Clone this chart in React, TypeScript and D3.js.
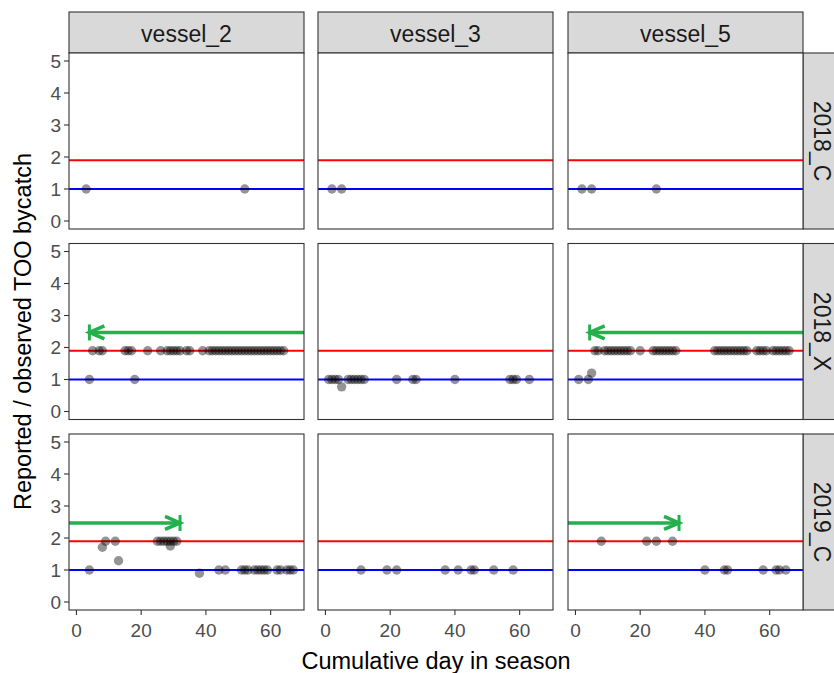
import React from "react";
import * as d3 from "d3";

const vessels = ["vessel_2", "vessel_3", "vessel_5"];
const seasons = ["2018_C", "2018_X", "2019_C"];
const xTicks = [0, 20, 40, 60];
const yTicks = [0, 1, 2, 3, 4, 5];
const redLevel = 1.9;
const blueLevel = 1.0;

// [day, ratio] per panel
const v2_2018C: [number, number][] = [[3, 1], [52, 1]];
const v3_2018C: [number, number][] = [[2, 1], [5, 1]];
const v5_2018C: [number, number][] = [[2, 1], [5, 1], [25, 1]];

const v2_2018X: [number, number][] = [
  [4, 1], [18, 1],
  [5, 1.9], [7, 1.9], [8, 1.9], [15, 1.9], [16, 1.9], [17, 1.9], [22, 1.9], [26, 1.9],
  [28, 1.9], [29, 1.9], [30, 1.9], [31, 1.9], [32, 1.9], [34, 1.9], [35, 1.9], [39, 1.9],
  [41, 1.9], [42, 1.9], [43, 1.9], [44, 1.9], [45, 1.9], [46, 1.9], [47, 1.9], [48, 1.9],
  [49, 1.9], [50, 1.9], [51, 1.9], [52, 1.9], [53, 1.9], [54, 1.9], [55, 1.9], [56, 1.9],
  [57, 1.9], [58, 1.9], [59, 1.9], [60, 1.9], [61, 1.9], [62, 1.9], [63, 1.9], [64, 1.9],
];
const v3_2018X: [number, number][] = [
  [1, 1], [2, 1], [3, 1], [4, 1], [5, 0.77], [7, 1], [8, 1], [9, 1], [10, 1], [11, 1], [12, 1],
  [22, 1], [27, 1], [28, 1], [40, 1], [57, 1], [58, 1], [59, 1], [63, 1],
];
const v5_2018X: [number, number][] = [
  [1, 1], [4, 1], [5, 1.2],
  [6, 1.9], [7, 1.9], [9, 1.9], [10, 1.9], [11, 1.9], [12, 1.9], [13, 1.9], [14, 1.9],
  [15, 1.9], [16, 1.9], [17, 1.9], [20, 1.9], [24, 1.9], [25, 1.9], [26, 1.9], [27, 1.9],
  [28, 1.9], [29, 1.9], [30, 1.9], [31, 1.9], [43, 1.9], [44, 1.9], [45, 1.9], [46, 1.9],
  [47, 1.9], [48, 1.9], [49, 1.9], [50, 1.9], [51, 1.9], [52, 1.9], [53, 1.9], [56, 1.9],
  [57, 1.9], [58, 1.9], [59, 1.9], [61, 1.9], [62, 1.9], [63, 1.9], [64, 1.9], [65, 1.9],
  [66, 1.9],
];

const v2_2019C: [number, number][] = [
  [4, 1], [8, 1.71], [9, 1.9], [12, 1.9], [13, 1.29], [25, 1.9], [26, 1.9], [27, 1.9],
  [28, 1.9], [29, 1.9], [30, 1.9], [31, 1.9], [29, 1.75], [38, 0.9], [44, 1], [46, 1],
  [51, 1], [52, 1], [53, 1], [55, 1], [56, 1], [57, 1], [58, 1], [59, 1], [62, 1], [63, 1],
  [65, 1], [66, 1], [67, 1],
];
const v3_2019C: [number, number][] = [
  [11, 1], [19, 1], [22, 1], [37, 1], [41, 1], [45, 1], [46, 1], [52, 1], [58, 1],
];
const v5_2019C: [number, number][] = [
  [8, 1.9], [22, 1.9], [25, 1.9], [30, 1.9],
  [40, 1], [46, 1], [47, 1], [58, 1], [62, 1], [63, 1], [65, 1],
];

const panelData: Record<string, [number, number][]> = {
  "vessel_2|2018_C": v2_2018C, "vessel_3|2018_C": v3_2018C, "vessel_5|2018_C": v5_2018C,
  "vessel_2|2018_X": v2_2018X, "vessel_3|2018_X": v3_2018X, "vessel_5|2018_X": v5_2018X,
  "vessel_2|2019_C": v2_2019C, "vessel_3|2019_C": v3_2019C, "vessel_5|2019_C": v5_2019C,
};

// arrows
const arrowVessel = ["vessel_2", "vessel_5", "vessel_2", "vessel_5"];
const arrowSeason = ["2018_X", "2018_X", "2019_C", "2019_C"];
const arrowFrom = [Infinity, Infinity, -Infinity, -Infinity];
const arrowTo = [4, 4.4, 32, 32];
const arrowLevel = 2.47;

const W = 834, H = 673;
const colX = [69, 318, 568];
const rowY = [53, 243.5, 434];
const PW = 235, PH = 176;
const STRIP = 41;
const FONT = "'Liberation Sans', Arial, sans-serif";
const GREEN = "#22b14c";

export default function App() {
  const x = d3.scaleLinear().domain([-2.3, 70.3]).range([0, PW]);
  const y = d3.scaleLinear().domain([-0.25, 5.25]).range([PH, 0]);
  const clampX = (v: number) => (v === Infinity ? PW : v === -Infinity ? 0 : x(v));

  return (
    <svg width={W} height={H} style={{ position: "absolute", left: 0, top: 0, background: "#fff" }} fontFamily={FONT}>
      <rect width={W} height={H} fill="#fff" />
      {vessels.map((v, ci) => (
        <g key={v} transform={`translate(${colX[ci]},${rowY[0] - STRIP})`}>
          <rect width={PW} height={STRIP} fill="#d9d9d9" stroke="#333" strokeWidth={1.1} />
          <text x={PW / 2} y={STRIP / 2 + 1} textAnchor="middle" dominantBaseline="central" fontSize={23} fill="#1a1a1a">{v}</text>
        </g>
      ))}
      {seasons.map((s, ri) => (
        <g key={s} transform={`translate(${colX[2] + PW},${rowY[ri]})`}>
          <rect width={STRIP} height={PH} fill="#d9d9d9" stroke="#333" strokeWidth={1.1} />
          <text transform={`translate(${STRIP / 2 - 2},${PH / 2}) rotate(90)`} textAnchor="middle" dominantBaseline="central" fontSize={23} fill="#1a1a1a">{s}</text>
        </g>
      ))}
      {seasons.map((s, ri) =>
        vessels.map((v, ci) => {
          const data = panelData[`${v}|${s}`];
          const arrows = arrowVessel.map((_, i) => i).filter((i) => arrowVessel[i] === v && arrowSeason[i] === s);
          return (
            <g key={`${v}${s}`} transform={`translate(${colX[ci]},${rowY[ri]})`}>
              <rect width={PW} height={PH} fill="#fff" />
              <line x1={0} x2={PW} y1={y(redLevel)} y2={y(redLevel)} stroke="#ff0000" strokeWidth={2} />
              <line x1={0} x2={PW} y1={y(blueLevel)} y2={y(blueLevel)} stroke="#0000ff" strokeWidth={2} />
              {data.map((d, i) => (
                <circle key={i} cx={x(d[0])} cy={y(d[1])} r={4.7} fill="#000" fillOpacity={0.42} />
              ))}
              {arrows.map((i) => {
                const x1 = clampX(arrowFrom[i]);
                const x2 = x(arrowTo[i]);
                const yy = y(arrowLevel);
                const dir = x2 < x1 ? 1 : -1;
                return (
                  <g key={i} stroke={GREEN} strokeWidth={3.6} fill="none">
                    <line x1={x1} x2={x2} y1={yy} y2={yy} />
                    <polyline points={`${x2 + dir * 15},${yy - 6.5} ${x2},${yy} ${x2 + dir * 15},${yy + 6.5}`} strokeLinejoin="miter" />
                    <line x1={x2} x2={x2} y1={yy - 8} y2={yy + 8} strokeWidth={3} />
                  </g>
                );
              })}
              <rect width={PW} height={PH} fill="none" stroke="#333" strokeWidth={1.1} />
              {ci === 0 &&
                yTicks.map((t) => (
                  <g key={t} transform={`translate(0,${y(t)})`}>
                    <line x1={-5} x2={0} stroke="#333" strokeWidth={1.1} />
                    <text x={-8} textAnchor="end" dominantBaseline="central" fontSize={19} fill="#4d4d4d">{t}</text>
                  </g>
                ))}
              {ri === 2 &&
                xTicks.map((t) => (
                  <g key={t} transform={`translate(${x(t)},${PH})`}>
                    <line y1={0} y2={5} stroke="#333" strokeWidth={1.1} />
                    <text y={27} textAnchor="middle" fontSize={19} fill="#4d4d4d">{t}</text>
                  </g>
                ))}
            </g>
          );
        })
      )}
      <text x={(colX[0] + colX[2] + PW) / 2} y={669} textAnchor="middle" fontSize={23.5} fill="#000">Cumulative day in season</text>
      <text transform={`translate(31,${(rowY[0] + rowY[2] + PH) / 2}) rotate(-90)`} textAnchor="middle" fontSize={23.5} fill="#000">Reported / observed TOO bycatch</text>
    </svg>
  );
}
